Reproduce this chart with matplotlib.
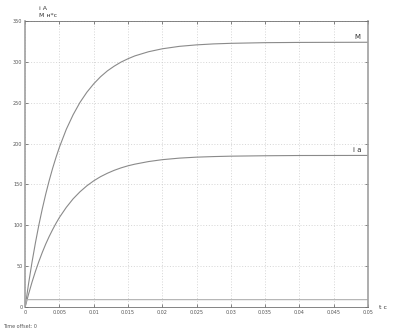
import matplotlib.pyplot as plt

# time points, s
t = [0, 0.0005, 0.001, 0.0015, 0.002, 0.0025, 0.003, 0.0035, 0.004, 0.0045,
     0.005, 0.006, 0.007, 0.008, 0.009, 0.01, 0.011, 0.012, 0.013, 0.014,
     0.015, 0.016, 0.018, 0.02, 0.0225, 0.025, 0.0275, 0.03, 0.035, 0.04, 0.05]
# torque M
m = [0, 28.7, 54.8, 78.6, 100.4, 120.1, 138.1, 154.5, 169.5, 183.1,
     195.6, 217.4, 235.3, 250.4, 262.8, 273.1, 281.8, 289.0, 294.8, 299.8,
     303.8, 307.3, 312.4, 316.0, 319.0, 320.8, 322.0, 322.7, 323.5, 323.8, 324]
# armature current i a
ia = [0, 15.8, 30.4, 43.6, 55.7, 66.8, 77.0, 86.2, 94.6, 102.4,
      109.6, 121.9, 132.4, 141.0, 148.3, 154.4, 159.5, 163.7, 167.3, 170.3,
      172.8, 174.8, 178.0, 180.3, 182.2, 183.4, 184.1, 184.6, 185.1, 185.4, 185.5]
# load torque Mc
tc = [0, 0.0002, 0.05]
mc = [0, 9, 9]

fig = plt.figure(figsize=(3.93, 3.31), dpi=100)
ax = fig.add_axes([0.064, 0.0725, 0.872, 0.864])

ax.plot(t, m, color='#8a8a8a', linewidth=0.8)
ax.plot(t, ia, color='#8a8a8a', linewidth=0.8)
ax.plot(tc, mc, color='#b0b0b0', linewidth=0.8)

ax.set_xlim(0, 0.05)
ax.set_ylim(0, 350)
ax.set_xticks([0, 0.005, 0.01, 0.015, 0.02, 0.025, 0.03, 0.035, 0.04, 0.045, 0.05])
ax.set_xticklabels(['0', '0.005', '0.01', '0.015', '0.02', '0.025', '0.03',
                    '0.035', '0.04', '0.045', '0.05'])
ax.set_yticks(range(0, 351, 50))
ax.grid(True, linestyle=(0, (1.5, 2.5)), color='#c8c8c8', linewidth=0.5)
ax.tick_params(labelsize=3.5, colors='#555555', length=2, width=0.5,
               direction='in', top=True, right=True, pad=2)
for side in ['left', 'right']:
    ax.spines[side].set_color('#a0a0a0')
    ax.spines[side].set_linewidth(1.2)
for side in ['top', 'bottom']:
    ax.spines[side].set_color('#707070')
    ax.spines[side].set_linewidth(0.6)

ax.text(0.0485, 327, 'M', fontsize=5, color='#333333', ha='center', va='bottom')
ax.text(0.0485, 188, 'i a', fontsize=5, color='#333333', ha='center', va='bottom')

fig.text(0.098, 0.975, 'i A', fontsize=4.5, color='#333333', va='center')
fig.text(0.098, 0.952, 'M н*с', fontsize=4.5, color='#333333', va='center')
fig.text(0.975, 0.07, 't c', fontsize=4.5, color='#333333', ha='center', va='center')
fig.text(0.008, 0.015, 'Time offset: 0', fontsize=3.5, color='#555555', va='center')

fig.savefig('out.png', dpi=100)
